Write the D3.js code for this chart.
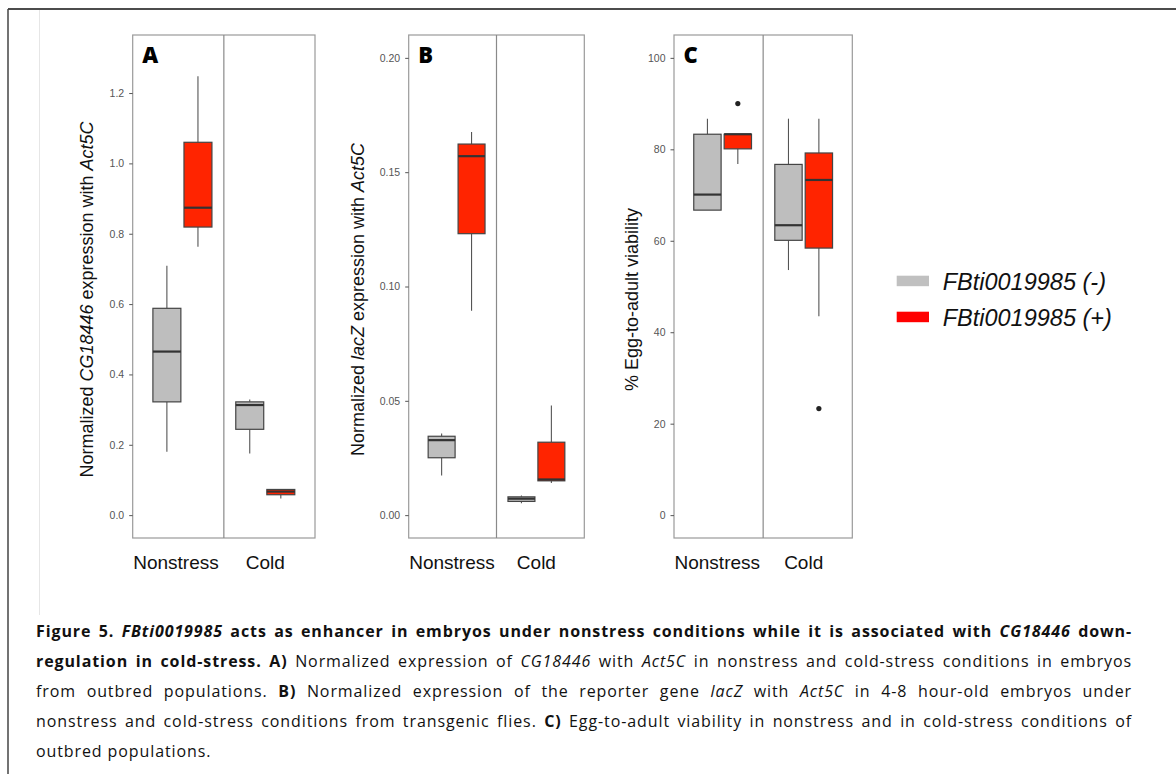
<!DOCTYPE html>
<html>
<head>
<meta charset="utf-8">
<script src="https://cdn.jsdelivr.net/npm/d3@7"></script>
<style>
  body { margin: 0; background: #fff; }
  svg { display: block; }
</style>
</head>
<body>
<script>
// Categories
var conditions = ["Nonstress", "Cold"];
var genotypes = ["FBti0019985 (-)", "FBti0019985 (+)"];
var boxColors = ["#bebebe", "#ff2400"];
var legendColors = ["#c0c0c0", "#ff0000"];

// Box summaries: [min, q1, median, q3, max]
// order: Nonstress(-), Nonstress(+), Cold(-), Cold(+)
var statsA = [
  [0.180, 0.322, 0.465, 0.588, 0.709],
  [0.763, 0.819, 0.874, 1.060, 1.248],
  [0.175, 0.244, 0.313, 0.322, 0.329],
  [0.047, 0.058, 0.067, 0.073, 0.073]
];
var statsB = [
  [0.0173, 0.0251, 0.0328, 0.0345, 0.0357],
  [0.0894, 0.1231, 0.1570, 0.1623, 0.1676],
  [0.0052, 0.0060, 0.0072, 0.0080, 0.0086],
  [0.0141, 0.0150, 0.0156, 0.0319, 0.0479]
];
var statsC = [
  [66.7, 66.7, 70.1, 83.3, 86.7],
  [76.8, 80.1, 83.3, 83.3, 83.3],
  [53.6, 60.1, 63.4, 76.7, 86.7],
  [43.5, 58.4, 73.3, 79.2, 86.7]
];
var outliersC = [[], [90], [], [23.3]];

// Axis ticks
var ticksA = [0, 0.2, 0.4, 0.6, 0.8, 1.0, 1.2];
var ticksB = [0, 0.05, 0.10, 0.15, 0.20];
var ticksC = [0, 20, 40, 60, 80, 100];

var W = 1176, H = 774;
var panelTop = 35, panelBottom = 538;

var svg = d3.select("body").append("svg")
    .attr("width", W)
    .attr("height", H);

// Page frame
svg.append("line").attr("x1", 8).attr("x2", W).attr("y1", 9).attr("y2", 9)
    .attr("stroke", "#111").attr("stroke-width", 1.5);
svg.append("line").attr("x1", 8).attr("x2", 8).attr("y1", 9).attr("y2", H)
    .attr("stroke", "#444").attr("stroke-width", 1.5);
svg.append("line").attr("x1", 39.5).attr("x2", 39.5).attr("y1", 10).attr("y2", 615)
    .attr("stroke", "#e6e6e6").attr("stroke-width", 1);

var panels = [
  {label: "A", left: 132.7, right: 315, limits: [0, 1.3], ticks: ticksA, fmt: d3.format(".1f"),
   stats: statsA, outliers: [[], [], [], []], titleX: 93,
   title: [["Normalized ", false], ["CG18446", true], [" expression with ", false], ["Act5C", true]]},
  {label: "B", left: 408.7, right: 584.3, limits: [0, 0.2], ticks: ticksB, fmt: d3.format(".2f"),
   stats: statsB, outliers: [[], [], [], []], titleX: 364,
   title: [["Normalized ", false], ["lacZ", true], [" expression with ", false], ["Act5C", true]]},
  {label: "C", left: 674, right: 852.3, limits: [0, 100], ticks: ticksC, fmt: d3.format("d"),
   stats: statsC, outliers: outliersC, titleX: 638,
   title: [["% Egg-to-adult viability", false]]}
];

panels.forEach(drawPanel);

function drawPanel(p) {
  var g = svg.append("g").attr("class", "panel");
  var pad = (p.limits[1] - p.limits[0]) * 0.05;
  var x = d3.scaleLinear().domain([0.4, 2.6]).range([p.left, p.right]);
  var y = d3.scaleLinear().domain([p.limits[0] - pad, p.limits[1] + pad])
      .range([panelBottom, panelTop]);
  var halfW = x(0.16875) - x(0);

  var boxes = p.stats.map(function(s, i) {
    return {cond: Math.floor(i / 2), geno: i % 2, s: s, out: p.outliers[i]};
  });
  function cx(d) { return x(d.cond + 1 + (d.geno - 0.5) * 0.375); }

  var bg = g.selectAll("g.box").data(boxes).enter().append("g").attr("class", "box");
  // whiskers
  bg.append("line")
      .attr("x1", cx).attr("x2", cx)
      .attr("y1", function(d) { return y(d.s[4]); })
      .attr("y2", function(d) { return y(d.s[3]); })
      .attr("stroke", "#555").attr("stroke-width", 1.1);
  bg.append("line")
      .attr("x1", cx).attr("x2", cx)
      .attr("y1", function(d) { return y(d.s[1]); })
      .attr("y2", function(d) { return y(d.s[0]); })
      .attr("stroke", "#555").attr("stroke-width", 1.1);
  // box
  bg.append("rect")
      .attr("x", function(d) { return cx(d) - halfW; })
      .attr("width", halfW * 2)
      .attr("y", function(d) { return y(d.s[3]); })
      .attr("height", function(d) { return y(d.s[1]) - y(d.s[3]); })
      .attr("fill", function(d) { return boxColors[d.geno]; })
      .attr("stroke", "#444").attr("stroke-width", 1.2);
  // median
  bg.append("line")
      .attr("x1", function(d) { return cx(d) - halfW; })
      .attr("x2", function(d) { return cx(d) + halfW; })
      .attr("y1", function(d) { return y(d.s[2]); })
      .attr("y2", function(d) { return y(d.s[2]); })
      .attr("stroke", "#333").attr("stroke-width", 2.2);
  // outliers
  bg.selectAll("circle").data(function(d) {
      return d.out.map(function(v) { return {x: cx(d), v: v}; });
    }).enter().append("circle")
      .attr("cx", function(d) { return d.x; })
      .attr("cy", function(d) { return y(d.v); })
      .attr("r", 2.6)
      .attr("fill", "#222");

  // panel border and facet divider
  g.append("rect")
      .attr("x", p.left).attr("y", panelTop)
      .attr("width", p.right - p.left).attr("height", panelBottom - panelTop)
      .attr("fill", "none").attr("stroke", "#9a9a9a").attr("stroke-width", 1.2);
  g.append("line")
      .attr("x1", x(1.5)).attr("x2", x(1.5))
      .attr("y1", panelTop).attr("y2", panelBottom)
      .attr("stroke", "#8a8a8a").attr("stroke-width", 1.2);

  // y axis
  var yAxis = g.append("g")
      .attr("transform", "translate(" + p.left + ",0)")
      .call(d3.axisLeft(y).tickValues(p.ticks).tickFormat(p.fmt).tickSize(3.5).tickPadding(5));
  yAxis.select(".domain").remove();
  yAxis.selectAll(".tick line").attr("stroke", "#555");
  yAxis.selectAll(".tick text")
      .attr("fill", "#555")
      .style("font-family", "'Liberation Sans', Arial, sans-serif")
      .style("font-size", "10.5px");

  // x labels
  g.selectAll("text.xlab").data(conditions).enter().append("text")
      .attr("class", "xlab")
      .attr("x", function(d, i) { return i === 0 ? x(0.4) + 0.5 : x(i + 1); })
      .attr("y", 568.5)
      .attr("text-anchor", function(d, i) { return i === 0 ? "start" : "middle"; })
      .style("font-family", "'Liberation Sans', Arial, sans-serif")
      .style("font-size", "19px")
      .attr("fill", "#111")
      .text(function(d) { return d; });

  // y title
  var midY = (panelTop + panelBottom) / 2 + 13;
  var yt = g.append("text")
      .attr("transform", "translate(" + p.titleX + "," + midY + ")rotate(-90)")
      .attr("text-anchor", "middle")
      .style("font-family", "'Liberation Sans', Arial, sans-serif")
      .style("font-size", "18px")
      .attr("fill", "#111");
  p.title.forEach(function(t) {
    yt.append("tspan").text(t[0]).style("font-style", t[1] ? "italic" : "normal");
  });

  // panel letter
  g.append("text")
      .attr("x", p.left + 9.5)
      .attr("y", 62.5)
      .style("font-family", "'Open Sans', Arial, sans-serif")
      .style("font-weight", 800)
      .style("font-size", "22px")
      .attr("fill", "#000")
      .text(p.label);
}

// Legend
var legend = svg.append("g").attr("class", "legend");
var lg = legend.selectAll("g").data(genotypes).enter().append("g")
    .attr("transform", function(d, i) { return "translate(896.7," + (275.7 + i * 36) + ")"; });
lg.append("rect")
    .attr("width", 32.3).attr("height", 10.5)
    .attr("fill", function(d, i) { return legendColors[i]; });
lg.append("text")
    .attr("x", 46).attr("y", 14.3)
    .style("font-family", "'Liberation Sans', Arial, sans-serif")
    .style("font-style", "italic")
    .style("font-size", "23.5px")
    .attr("fill", "#111")
    .text(function(d) { return d; });

// Caption: segments [text, bold, italic]
var captionLines = [
  [["Figure 5. ", 1, 0], ["FBti0019985", 1, 1], [" acts as enhancer in embryos under nonstress conditions while it is associated with ", 1, 0], ["CG18446", 1, 1], [" down-", 1, 0]],
  [["regulation in cold-stress. A)", 1, 0], [" Normalized expression of ", 0, 0], ["CG18446", 0, 1], [" with ", 0, 0], ["Act5C", 0, 1], [" in nonstress and cold-stress conditions in embryos", 0, 0]],
  [["from outbred populations. ", 0, 0], ["B)", 1, 0], [" Normalized expression of the reporter gene ", 0, 0], ["lacZ", 0, 1], [" with ", 0, 0], ["Act5C", 0, 1], [" in 4-8 hour-old embryos under", 0, 0]],
  [["nonstress and cold-stress conditions from transgenic flies. ", 0, 0], ["C)", 1, 0], [" Egg-to-adult viability in nonstress and in cold-stress conditions of", 0, 0]],
  [["outbred populations.", 0, 0]]
];
var capLeft = 36, capRight = 1132, capTrack = 0.9;
captionLines.forEach(function(line, i) {
  var t = svg.append("text")
      .attr("x", capLeft)
      .attr("y", 637 + i * 30)
      .style("font-family", "'Open Sans', Lato, sans-serif")
      .style("font-size", "16px")
      .attr("fill", "#111");
  line.forEach(function(seg) {
    t.append("tspan").text(seg[0])
        .style("font-weight", seg[1] ? 700 : 400)
        .style("font-style", seg[2] ? "italic" : "normal");
  });
  var full = line.map(function(s) { return s[0]; }).join("");
  var w0 = t.node().getComputedTextLength();
  var ls = capTrack, ws = 0;
  if (i < captionLines.length - 1) {
    var spaces = (full.match(/ /g) || []).length;
    var slack = capRight - capLeft - w0;
    ls = Math.min(capTrack, slack / full.length);
    ws = (slack - ls * full.length) / spaces;
  }
  t.attr("letter-spacing", ls).attr("word-spacing", ws);
});
</script>
</body>
</html>
